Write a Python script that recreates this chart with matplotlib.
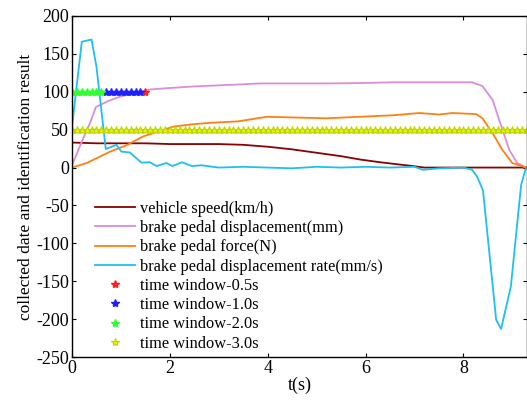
import numpy as np
import matplotlib
matplotlib.use("Agg")
import matplotlib.pyplot as plt

plt.rcParams['font.family'] = ['Liberation Serif', 'DejaVu Serif']
plt.rcParams['axes.unicode_minus'] = False

# vehicle speed (km/h)
t_speed = [0, 0.5, 1.0, 1.5, 2.0, 2.5, 3.0, 3.5, 4.0, 4.5, 5.0, 5.5, 5.9, 6.3, 6.6, 6.9, 7.2, 8.0, 9.3]
v_speed = [33, 32, 32, 32, 31, 31, 31, 30, 27.5, 24, 19.5, 15, 10.5, 7, 4.7, 2.5, 0, 0, 0]

# brake pedal displacement (mm)
t_disp = [0, 0.16, 0.37, 0.49, 0.75, 0.98, 1.3, 1.59, 2.0, 2.48, 3.2, 3.84, 4.5, 5.2, 5.9, 6.56, 7.3, 8.18, 8.39, 8.6, 8.73, 8.94, 9.1, 9.28]
v_disp = [3, 28, 59, 80, 88, 93.5, 99, 103, 105, 107, 109, 111, 111, 111, 111.5, 112.5, 112.5, 112.5, 107.5, 89, 63, 23, 6, 0]

# brake pedal force (N)
t_force = [0, 0.3, 0.78, 1.1, 1.45, 2.07, 2.45, 2.82, 3.4, 3.98, 4.6, 5.2, 5.88, 6.56, 7.1, 7.5, 7.78, 8.26, 8.39, 8.6, 8.8, 9.0, 9.28]
v_force = [0, 6, 21, 29, 41, 54, 57, 59, 61, 67, 66, 65, 67, 69, 72, 70, 72, 70.5, 65, 45, 23, 6, 0]

# brake pedal displacement rate (mm/s)
t_rate = [0, 0.2, 0.4, 0.5, 0.69, 0.91, 1.01, 1.18, 1.42, 1.59, 1.73, 1.93, 2.05, 2.25, 2.45, 2.65, 3.0, 3.5, 4.0, 4.5, 5.0, 5.5, 6.0, 6.5, 7.0, 7.17, 7.5, 8.0, 8.18, 8.28, 8.4, 8.67, 8.77, 8.97, 9.18, 9.28]
v_rate = [54, 166, 169, 133, 24.5, 30, 21, 20, 6.5, 7, 2, 6, 2, 7, 2, 3, 0, 1, 0, -1, 1, 0, 1, 0, 1, -3, -1, 0, -3, -12, -30, -201, -213, -157, -23, 0]

# identification results (time windows)
t_id = np.round(np.arange(0, 9.31, 0.1), 2)
t_w05 = [1.5]
v_w05 = [100]
t_w10 = [0.7, 0.8, 0.9, 1.0, 1.1, 1.2, 1.3, 1.4]
v_w10 = [100, 100, 100, 100, 100, 100, 100, 100]
t_w20 = [0, 0.1, 0.2, 0.3, 0.4, 0.5, 0.6]
v_w20 = [100, 100, 100, 100, 100, 100, 100]
v_w30 = [50] * len(t_id)

fig = plt.figure(figsize=(5.27, 4.0), dpi=100)
ax = fig.add_axes([72/527, 43/400, 455/527, 341/400])

lw = 1.3
ax.plot(t_speed, v_speed, color='#8b0000', lw=lw, label='vehicle speed(km/h)')
ax.plot(t_disp, v_disp, color='#d98ed8', lw=lw, label='brake pedal displacement(mm)')
ax.plot(t_force, v_force, color='#ff8010', lw=lw, label='brake pedal force(N)')
ax.plot(t_rate, v_rate, color='#1ec0ee', lw=lw, label='brake pedal displacement rate(mm/s)')

ms = 6
ax.plot(t_w05, v_w05, ls='none', marker='*', ms=ms, color='#ff2020', label='time window-0.5s')
ax.plot(t_w10, v_w10, ls='none', marker='*', ms=ms, color='#2020ff', label='time window-1.0s')
ax.plot(t_w20, v_w20, ls='none', marker='*', ms=ms, color='#30ff30', label='time window-2.0s')
ax.plot(t_id, v_w30, ls='none', marker='*', ms=ms, markerfacecolor='#f0f000',
        markeredgecolor='#b8d800', markeredgewidth=0.8, color='#f0f000', label='time window-3.0s')

ax.set_xlim(0, 9.3)
ax.set_ylim(-250, 200)
ax.set_xticks([0, 2, 4, 6, 8])
ax.set_yticks(range(-250, 201, 50))
ax.tick_params(direction='in', length=3, top=True, right=True, labelsize=13, pad=2)
for s in ax.spines.values():
    s.set_linewidth(1.0)

ax.set_xlabel('t(s)', fontsize=13, labelpad=0)
ax.set_ylabel('collected date and identification result', fontsize=12.5, labelpad=2)

leg = ax.legend(loc='upper left', bbox_to_anchor=(0.05, 0.458), frameon=False,
                fontsize=11.8, handlelength=2.45, handletextpad=0.3, labelspacing=0.2,
                borderpad=0, borderaxespad=0)

fig.savefig('out.png', dpi=100)
